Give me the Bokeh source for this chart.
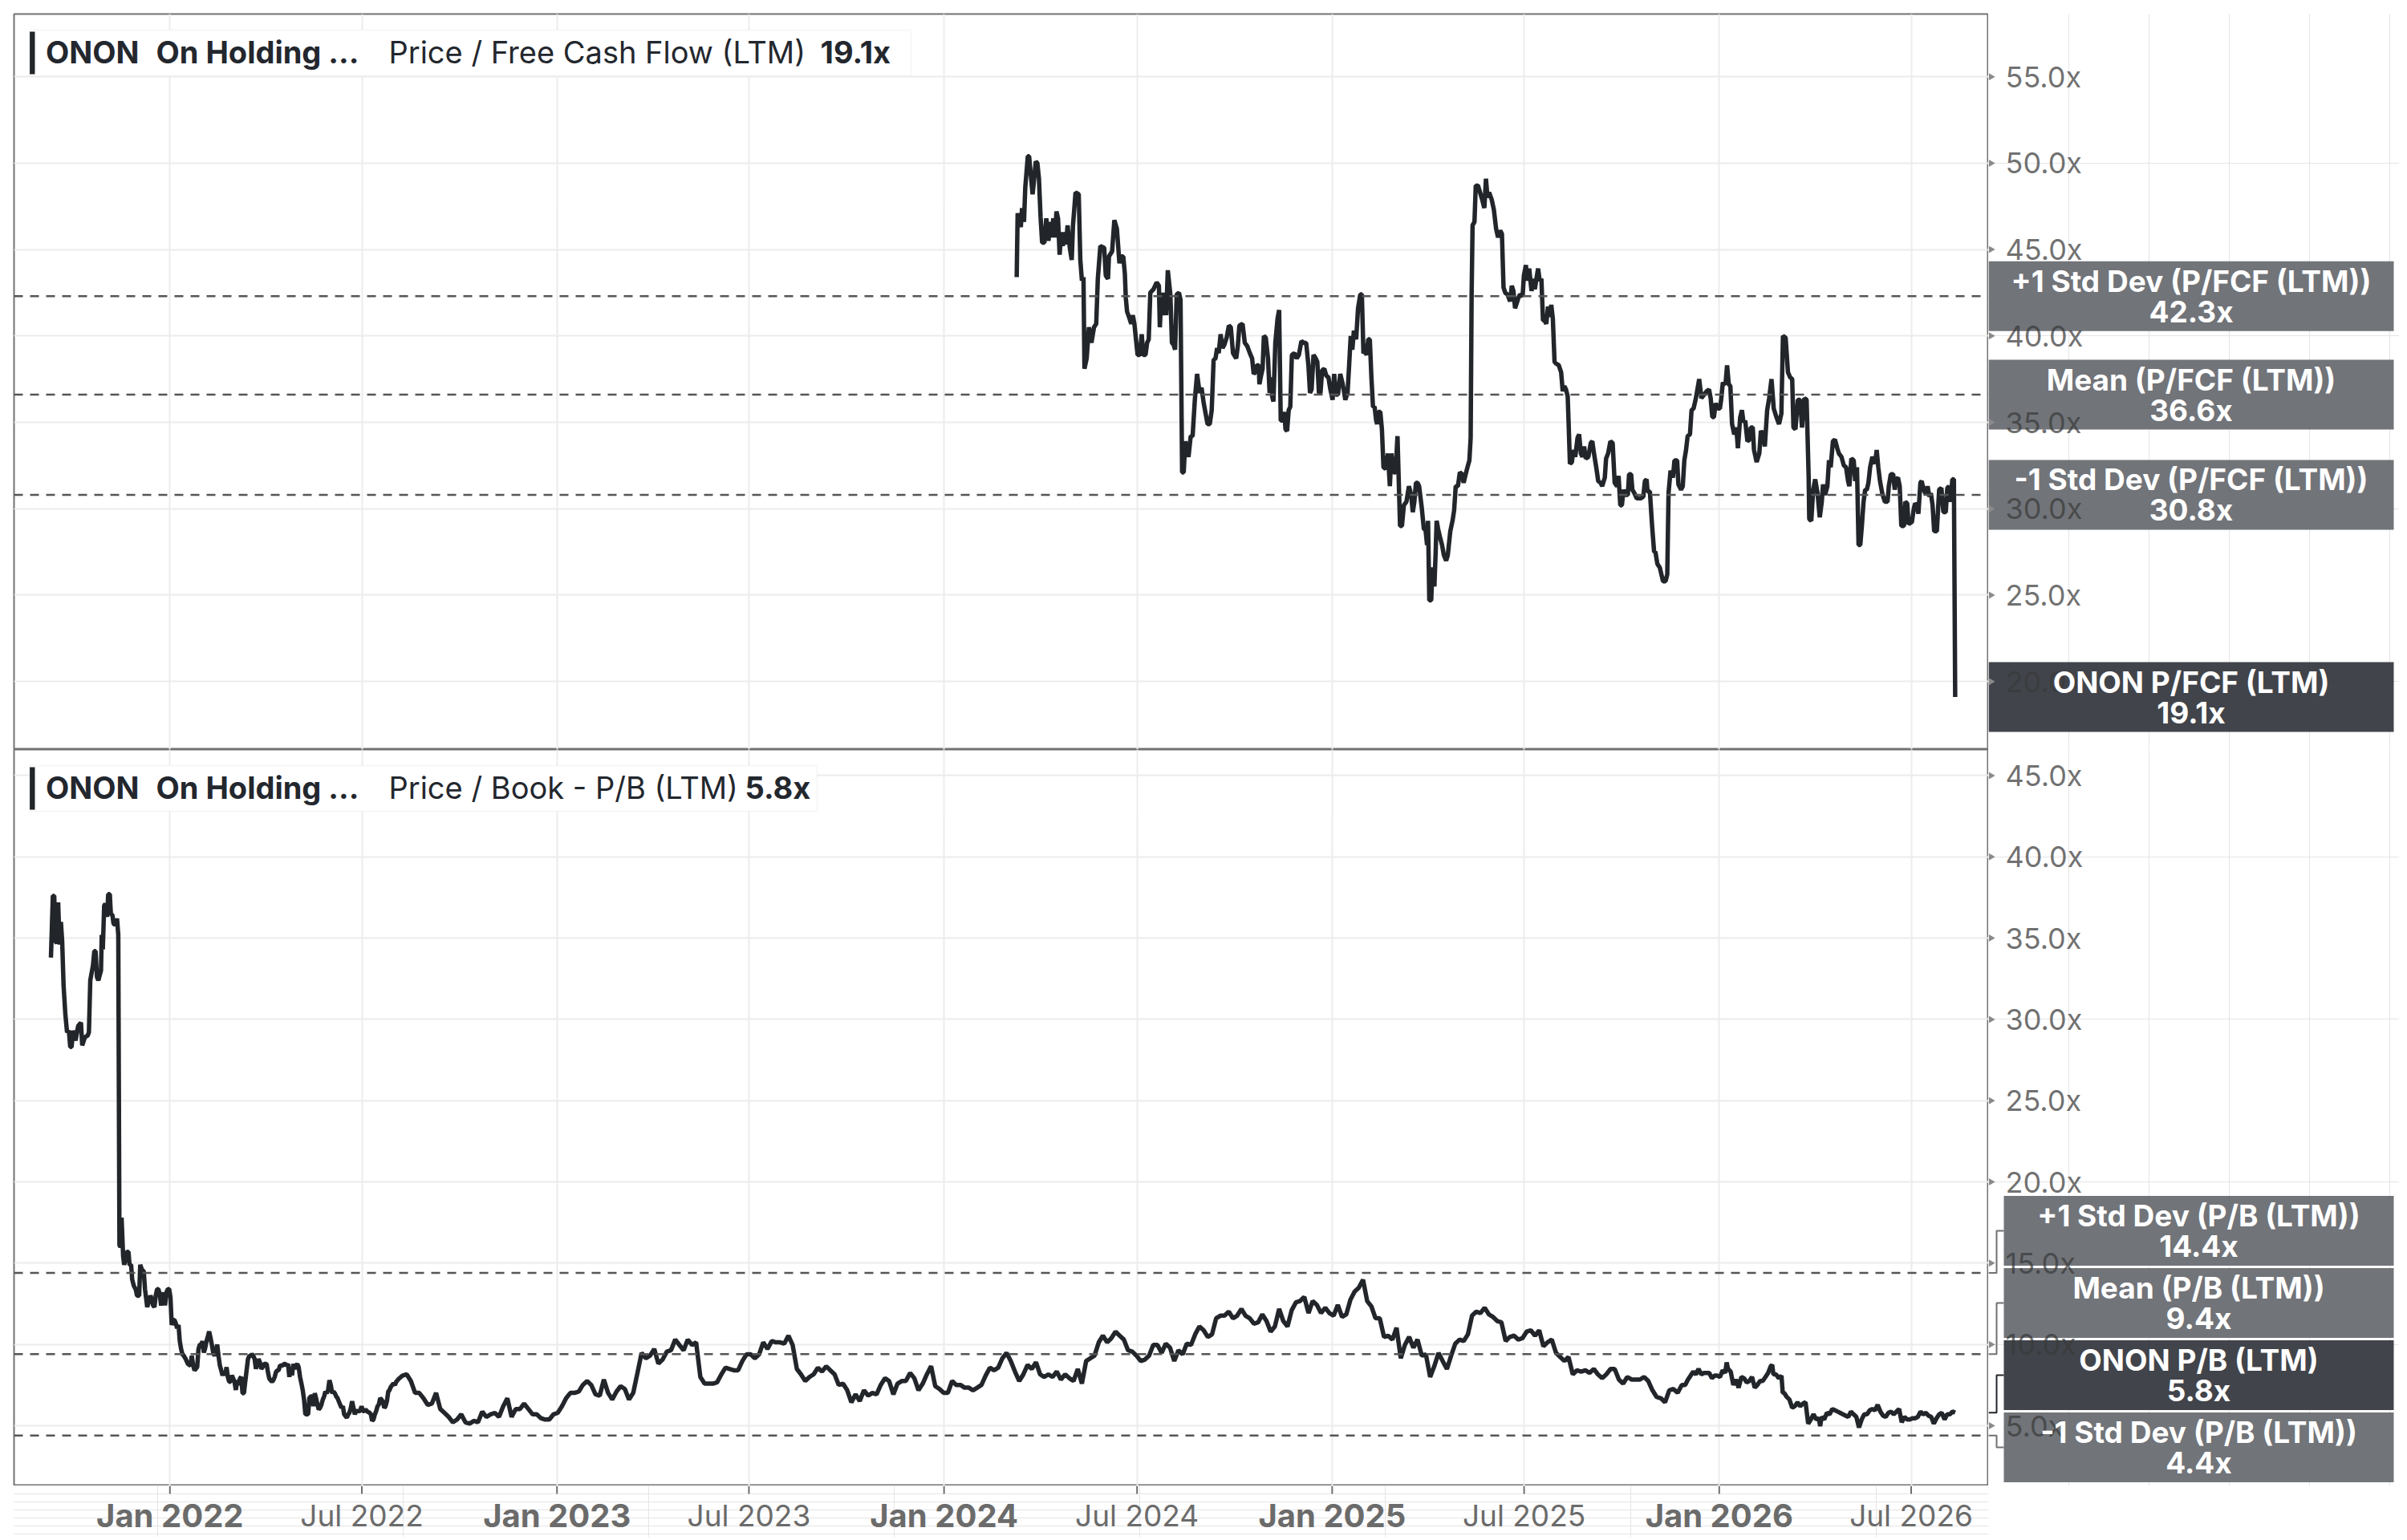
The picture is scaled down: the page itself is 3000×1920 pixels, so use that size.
import numpy as np
import pandas as pd
from bokeh.plotting import figure
from bokeh.layouts import column, row
from bokeh.core.properties import value
from bokeh.models import Range1d, FixedTicker, Span, BoxAnnotation, Label, Grid
from bokeh.embed import file_html
from bokeh.resources import INLINE

# ---------------- data (days since 2022-01-01, multiple) ----------------
BASE = pd.Timestamp("2022-01-01")

fcf_part1 = [(798.5,43.4),(799.4,47.1),(802.4,46.3),(803.6,47.4),(805.4,46.6),(806.6,48.6),(809.0,50.4),(810.2,50.4),(813.5,48.2),(815.0,49.1),(816.5,50.1),(818.0,50.0),(819.5,49.1),(821.0,46.9),(822.5,45.4),(824.6,45.4),(826.4,46.8),(828.5,45.5),(830.0,46.6),(831.5,45.7),(833.0,46.8),(834.5,45.7),(836.0,47.2),(837.5,46.8),(839.0,44.7),(840.5,46.0),(842.0,45.2),(843.5,46.0),(845.0,45.3),(846.5,46.4),(848.6,45.1),(850.4,44.4),(851.6,46.4),(854.0,48.3),(857.0,48.2),(858.5,44.4),(860.0,43.2),(861.5,43.4),(862.4,38.1),(864.5,38.7),(866.6,40.5),(869.0,39.6),(871.4,40.5),(873.5,40.7),(875.0,43.3),(877.4,45.2),(881.0,45.1),(882.5,43.5),(884.6,43.3),(885.5,44.6),(888.5,44.9),(890.6,46.7),(893.0,46.2),(895.4,44.2),(896.6,44.6),(899.0,44.6),(900.5,43.6),(901.4,42.2),(902.6,41.4),(904.4,41.1),(906.5,40.7),(908.0,41.2),(909.5,40.7),(911.0,39.8),(912.5,38.9),(914.6,38.9),(916.4,40.1),(917.9,38.9),(920.0,38.9),(921.5,39.6),(923.0,39.8),(924.5,42.5),(927.5,42.7),(930.5,43.1),(932.6,42.9),(933.5,40.5),(935.0,42.5),(936.5,41.2),(938.0,42.5),(939.5,41.2),(941.0,43.8),(943.4,42.4),(944.9,39.6),(946.4,39.5),(947.9,39.2),(949.4,42.4),(951.5,42.5),(953.0,42.1),(954.5,32.1),(956.0,32.1),(957.5,33.9),(959.0,33.4),(960.5,33.0),(962.6,34.2),(964.4,34.2),(966.5,36.3),(968.6,37.8),(971.0,36.7),(972.8,37.0),(974.9,36.1),(977.0,35.4),(978.5,34.9),(980.6,34.9),(982.4,35.7),(984.2,38.6),(986.0,38.7),(987.5,39.3),(989.0,39.0),(990.8,40.1),(992.6,39.3),(994.4,39.5),(996.5,39.9),(998.6,40.6),(1000.4,40.5),(1002.5,39.0),(1005.5,38.7),(1007.0,39.4),(1008.5,40.6),(1011.5,40.7),(1013.6,39.6),(1016.0,39.4),(1018.4,39.0),(1020.5,38.7),(1022.0,37.8),(1023.5,37.9),(1025.0,38.3),(1026.8,38.3),(1027.4,37.2),(1028.6,37.6),(1030.4,38.1),(1031.6,40.0),(1033.4,39.9),(1035.5,38.7),(1037.0,36.7),(1038.5,37.6),(1039.4,36.5),(1040.6,36.2),(1042.4,39.6),(1044.5,41.0),(1046.0,41.5),(1047.5,35.1),(1049.0,35.1),(1050.8,35.6),(1052.0,34.6),(1053.5,34.5),(1055.0,35.7),(1056.5,35.9),(1058.0,38.9),(1060.4,39.0),(1062.5,38.7),(1064.6,38.9),(1067.0,39.7),(1069.4,39.6),(1071.5,39.6),(1073.6,38.3),(1075.1,36.7),(1076.6,36.9),(1078.4,38.9),(1080.5,38.7),(1082.0,38.5),(1083.5,36.7),(1085.0,36.7),(1086.5,38.0),(1088.6,38.1),(1090.4,37.7),(1092.5,37.6),(1094.0,37.0),(1096.4,36.3),(1097.9,37.8),(1099.4,36.6),(1101.5,36.6),(1103.6,37.8),(1106.0,37.2),(1108.4,36.3),(1110.5,36.7),(1112.0,38.3),(1113.5,40.0),(1115.0,39.2),(1116.5,40.3),(1118.6,39.8),(1120.4,41.6),(1122.5,42.4),(1124.0,42.4),(1125.5,39.0),(1127.0,39.1),(1128.5,38.9),(1130.0,39.8),(1131.5,39.8),(1133.0,37.6),(1134.5,35.9),(1136.0,35.9),(1137.5,35.1),(1138.4,34.9),(1139.6,35.6),(1141.4,35.6),(1142.9,34.6),(1144.4,32.4),(1146.5,32.3),(1148.6,33.2),(1150.4,31.3),(1151.9,33.2),(1154.0,32.1),(1155.8,32.1),(1157.6,34.2),(1160.0,29.0),(1161.8,29.0),(1163.6,30.2),(1166.0,30.4),(1168.4,31.3),(1170.5,30.8),(1172.0,29.8),(1173.5,30.4),(1175.0,31.5),(1176.5,31.5),(1178.0,31.3),(1180.4,30.1),(1182.5,28.8),(1184.0,28.8),(1185.5,27.9),(1186.4,29.3),(1187.6,24.7),(1189.4,24.7),(1190.6,26.6),(1192.4,25.5),(1193.6,27.5),(1194.5,29.3),(1196.0,28.8),(1197.5,28.4),(1199.6,27.9),(1201.4,27.3),(1203.5,27.0),(1205.0,27.3),(1207.4,28.7),(1209.5,29.3),(1211.0,29.9),(1212.5,31.3),(1214.6,31.3),(1216.4,32.1),(1218.5,32.0),(1220.0,31.5),(1221.5,31.9),(1223.6,32.4),(1225.4,32.8),(1226.6,34.1),(1227.5,42.4),(1228.4,46.4),(1230.2,46.6),(1231.4,48.7),(1233.5,48.7),(1235.0,48.4),(1237.4,47.9),(1239.5,47.4),(1241.0,49.1),(1242.5,48.0),(1244.0,48.3),(1246.4,47.9),(1248.5,47.3),(1250.6,46.2),(1252.4,45.7)]

fcf_part2 = [(1254.5,46.1),(1256.1,45.9),(1257.6,42.8),(1259.2,42.5),(1261.3,42.4),(1263.8,42.0),(1265.4,42.9),(1266.9,42.6),(1268.5,41.6),(1271.6,42.2),(1273.1,42.4),(1275.6,42.3),(1276.8,43.5),(1278.7,44.1),(1279.9,43.2),(1281.8,43.9),(1284.0,42.6),(1285.5,43.3),(1287.1,42.7),(1288.6,43.3),(1290.2,43.9),(1291.7,43.2),(1293.3,43.3),(1294.8,40.9),(1296.4,40.9),(1297.9,40.7),(1299.5,41.7),(1301.0,41.1),(1302.6,41.8),(1304.1,41.0),(1305.7,38.5),(1307.2,38.4),(1309.7,38.3),(1311.9,37.9),(1313.4,36.8),(1315.0,37.1),(1316.5,36.9),(1318.1,36.5),(1319.0,34.9),(1320.2,32.6),(1322.1,32.7),(1323.3,33.4),(1325.2,33.0),(1327.4,34.1),(1328.9,34.3),(1330.5,33.2),(1332.0,33.0),(1333.6,33.6),(1335.1,32.9),(1337.6,33.0),(1339.8,33.8),(1341.3,33.9),(1342.9,33.2),(1345.0,32.4),(1346.9,31.6),(1349.1,31.5),(1350.6,31.3),(1353.1,31.8),(1354.3,32.9),(1356.2,33.2),(1358.4,33.9),(1360.5,33.8),(1362.4,31.5),(1364.6,31.3),(1366.1,31.9),(1367.7,30.2),(1369.2,30.2),(1370.8,31.1),(1372.3,30.8),(1374.8,30.8),(1376.0,32.0),(1377.9,32.0),(1379.1,31.1),(1381.0,30.9),(1383.2,30.6),(1384.7,30.6),(1387.2,30.6),(1389.4,30.7),(1390.9,31.6),(1392.5,31.7),(1393.4,31.0),(1395.6,31.0),(1397.7,29.0),(1399.6,27.5),(1400.8,27.5),(1402.7,26.8),(1404.9,26.6),(1408.0,25.8),(1410.4,25.8),(1412.0,26.2),(1413.2,30.9),(1415.1,32.2),(1417.3,31.8),(1418.8,32.8),(1421.3,32.8),(1422.5,31.4),(1425.0,31.1),(1426.6,31.3),(1428.1,32.8),(1429.7,33.4),(1431.2,34.2),(1433.4,34.3),(1434.9,35.7),(1436.8,35.8),(1439.0,36.4),(1442.1,37.5),(1444.2,36.4),(1446.7,36.6),(1449.2,36.8),(1451.4,36.9),(1452.9,36.4),(1454.5,35.3),(1456.0,35.3),(1457.6,36.1),(1459.7,35.8),(1461.6,35.8),(1462.8,36.3),(1464.4,37.3),(1466.9,37.2),(1468.4,38.3),(1470.0,37.2),(1471.5,37.1),(1473.1,34.9),(1475.2,34.3),(1477.1,34.7),(1478.6,33.5),(1480.8,35.3),(1482.4,35.7),(1483.9,35.0),(1485.5,35.1),(1487.6,33.9),(1489.5,34.0),(1490.7,34.7),(1492.6,34.7),(1493.8,33.4),(1496.3,32.7),(1498.8,33.2),(1500.3,34.5),(1502.5,34.3),(1504.0,33.6),(1506.2,35.7),(1508.1,36.4),(1510.3,37.5),(1512.4,35.8),(1514.9,35.3),(1517.4,34.9),(1519.6,35.5),(1521.1,40.0),(1523.6,39.9),(1525.8,37.9),(1527.9,37.6),(1529.8,37.5),(1531.0,34.7),(1532.9,34.6),(1535.1,36.3),(1537.2,36.3),(1539.1,34.7),(1541.3,36.4),(1543.4,36.3),(1545.3,31.9),(1545.9,29.4),(1547.8,29.3),(1549.6,31.1),(1551.5,31.7),(1553.7,30.9),(1555.8,29.5),(1557.7,30.4),(1558.9,31.4),(1560.8,30.8),(1563.0,31.3),(1564.5,32.8),(1566.1,32.4),(1568.2,33.9),(1570.1,34.0),(1572.3,33.5),(1573.8,33.2),(1576.3,33.0),(1578.5,32.5),(1580.6,32.4),(1582.5,31.6),(1583.7,31.3),(1585.6,32.9),(1587.8,32.8),(1589.3,31.6),(1590.9,32.4),(1592.4,27.9),(1594.0,27.9),(1595.5,29.0),(1597.1,30.4),(1598.6,31.1),(1600.2,31.1),(1601.7,31.5),(1603.3,32.4),(1605.4,33.0),(1607.9,32.6),(1609.5,33.4),(1611.0,32.4),(1612.6,31.6),(1614.7,30.9),(1617.2,30.4),(1619.7,30.4),(1620.9,31.3),(1622.8,32.0),(1625.0,32.0),(1626.5,31.1),(1628.1,31.7),(1629.6,31.8),(1631.2,31.3),(1632.7,29.0),(1635.2,29.0),(1636.4,30.4),(1638.3,30.3),(1639.5,29.1),(1641.4,29.2),(1642.6,29.2),(1644.5,30.0),(1645.7,30.3),(1647.6,30.2),(1648.8,29.7),(1650.7,31.5),(1651.9,31.6),(1653.8,31.1),(1656.0,30.8),(1657.5,31.3),(1659.1,30.7),(1660.6,30.9),(1662.2,30.2),(1663.7,28.7),(1666.2,28.7),(1668.4,31.1),(1670.5,31.2),(1672.4,29.8),(1674.6,29.8),(1676.1,31.2),(1677.7,31.3),(1679.2,30.4),(1680.8,31.7),(1682.3,31.7),(1683.5,19.1)]

pb_part1 = [(-112.2,33.8),(-110.4,37.6),(-109.1,37.6),(-107.9,34.8),(-106.6,34.7),(-105.4,37.2),(-104.1,34.6),(-102.8,36.0),(-101.6,34.8),(-100.3,32.1),(-98.6,30.3),(-97.0,29.2),(-95.3,29.3),(-94.0,28.3),(-92.7,28.3),(-91.5,29.3),(-89.0,28.7),(-86.5,29.6),(-83.9,29.8),(-82.7,28.4),(-80.2,28.9),(-77.6,29.0),(-76.4,29.2),(-75.1,32.4),(-72.6,33.3),(-71.3,34.2),(-70.1,34.2),(-68.8,32.6),(-67.5,32.4),(-66.3,32.7),(-65.0,33.0),(-64.3,35.2),(-63.3,34.3),(-62.0,37.0),(-60.8,37.1),(-59.2,36.3),(-58.2,37.7),(-56.7,37.7),(-55.7,36.5),(-54.2,36.4),(-53.2,35.9),(-51.7,35.8),(-49.9,36.2),(-48.7,35.2),(-47.6,16.1),(-46.6,16.0),(-45.6,17.8),(-44.1,15.4),(-43.1,14.9),(-41.6,15.4),(-40.6,15.7),(-39.1,15.7),(-38.1,14.9),(-36.6,14.9),(-35.6,14.0),(-34.0,13.6),(-32.3,13.4),(-31.0,13.0),(-29.0,13.0),(-28.0,14.9),(-26.4,14.6),(-24.7,14.5),(-23.5,13.4),(-21.4,12.3),(-19.7,12.7),(-18.4,13.0),(-17.1,12.8),(-15.9,12.4),(-14.6,12.3),(-13.4,13.0),(-12.1,13.4),(-10.9,13.4),(-9.6,13.1),(-8.3,12.4),(-7.1,12.8),(-5.8,13.2),(-4.6,12.4),(-3.3,13.2),(-2.0,13.4),(-0.7,13.4),(0.5,12.9),(1.7,11.2),(3.0,11.5),(4.3,11.5),(5.5,11.3),(6.8,11.0),(8.1,11.2),(9.3,10.2),(10.6,9.7),(11.8,9.4),(13.1,9.3),(14.9,9.1),(16.9,8.8),(19.4,8.7),(20.6,9.3),(21.9,8.7),(23.2,8.4),(24.4,8.5),(25.7,8.6),(26.9,9.7),(28.2,10.0),(29.5,10.0),(30.7,10.2),(32.0,9.5),(33.3,9.8),(34.5,10.2),(35.8,10.5),(37.0,10.8),(38.3,10.4),(39.5,10.0),(40.8,9.5),(42.1,9.3),(43.3,9.6),(44.6,10.0),(45.8,9.3),(47.1,8.7),(48.4,8.4),(49.6,8.1),(50.9,8.3),(52.1,8.1),(53.4,8.6),(54.6,8.0),(55.9,7.7),(57.1,7.7),(58.4,8.1),(59.7,7.9),(60.9,7.7),(62.2,7.2),(63.5,7.8),(64.7,7.5),(66.0,7.9),(67.2,8.0),(68.5,7.0),(69.8,7.0),(71.0,7.7),(72.3,8.4),(73.6,9.1),(74.8,9.3),(76.1,9.3),(77.3,9.4),(78.6,9.3),(79.9,9.1),(81.1,8.5),(82.4,8.8),(83.6,9.1),(84.9,8.9),(86.2,8.5),(87.4,8.6),(88.7,8.8),(91.2,8.8),(92.4,8.3),(93.7,7.9),(96.2,7.7),(97.5,7.8),(98.8,8.0),(100.0,8.3),(101.3,8.4),(102.5,8.4),(103.8,8.7),(106.3,8.7),(107.6,8.8),(108.8,8.8),(110.1,8.7),(111.4,8.8),(112.6,8.0),(113.9,8.6),(115.1,8.1),(116.4,8.8),(117.6,8.5),(118.9,8.7),(120.1,8.8),(121.4,8.6),(122.7,8.0),(124.0,7.6),(125.2,7.2),(126.5,6.6),(127.7,5.7),(130.3,5.7),(131.5,6.7),(132.8,6.8),(134.0,6.8),(135.3,6.2),(136.6,7.0),(137.8,6.7),(139.1,6.3),(140.3,6.0),(141.6,6.1),(142.9,6.3),(144.1,6.6),(145.4,6.8),(146.6,7.1),(147.9,7.0),(149.2,7.2),(150.4,7.8),(151.7,7.5),(153.0,7.0),(154.2,7.1),(155.5,7.0),(156.8,6.8),(158.0,6.7),(160.5,6.3),(161.8,6.1),(163.1,6.2),(164.3,5.7),(166.8,5.5),(168.1,5.7),(169.3,5.8),(170.6,6.1),(171.8,6.5),(173.1,6.1),(174.4,5.7),(175.6,5.9),(176.9,5.9),(179.4,5.9),(180.7,6.2),(181.9,5.9),(183.2,5.9),(184.5,6.0),(185.7,5.9),(188.2,5.8),(189.5,5.7),(190.7,5.3),(192.0,5.4),(193.3,5.7),(194.5,5.9),(195.8,6.2),(197.0,6.3),(198.3,6.7),(199.6,6.6),(200.8,6.5),(202.1,6.1),(203.3,6.2),(204.6,6.5),(205.9,7.1),(207.1,7.2),(208.4,7.4),(209.6,7.5),(210.9,7.6),(212.2,7.5),(213.4,7.7),(214.7,7.8),(216.0,7.9)]

pb_part2 = [(219.3,8.08),(223.3,8.16),(227.2,7.75),(231.2,7.02),(235.1,7.02),(239.1,6.69),(243.1,6.28),(247.0,6.36),(251.0,7.02),(254.9,6.03),(258.9,5.79),(262.8,5.54),(266.8,5.21),(270.8,5.38),(274.7,5.70),(278.7,5.21),(282.6,5.13),(286.6,5.30),(290.5,5.21),(294.5,5.87),(298.4,5.54),(302.4,5.70),(306.4,5.79),(310.3,5.54),(314.3,6.20),(318.2,6.69),(322.2,5.54),(326.1,6.03),(330.1,6.03),(334.0,6.36),(338.0,6.03),(342.0,5.70),(345.9,5.70),(349.9,5.46),(353.8,5.38),(357.8,5.38),(361.7,5.70),(365.7,5.79),(369.7,6.20),(373.6,6.69),(377.6,7.02),(381.5,7.02),(385.5,7.10),(389.4,7.51),(393.4,7.75),(397.3,7.51),(401.3,6.93),(405.3,6.85),(409.2,7.84),(413.2,7.02),(417.1,6.61),(421.1,7.10),(425.0,7.43),(429.0,7.26),(432.9,6.61),(436.9,7.02),(440.9,8.25),(444.8,9.48),(448.8,9.15),(452.7,9.31),(456.7,9.72),(460.6,8.82),(464.6,9.07),(468.6,9.56),(472.5,9.64),(476.5,10.30),(480.4,9.97),(484.4,9.64),(488.3,10.30),(492.3,9.97),(496.2,10.13),(500.2,8.00),(504.2,7.59),(508.1,7.59),(512.1,7.59),(516.0,7.67),(520.0,8.16),(523.9,8.57),(527.9,8.49),(531.8,8.41),(535.8,8.41),(539.8,8.98),(543.7,9.39),(547.7,9.39),(551.6,9.15),(555.6,9.39),(559.5,10.13),(563.5,9.72),(567.5,10.21),(571.4,10.13),(575.4,10.13),(579.3,10.05),(583.3,10.54),(587.2,9.97),(591.2,8.49),(595.1,8.16),(599.1,7.75),(603.1,8.00),(607.0,8.16),(611.0,8.57),(614.9,8.33),(618.9,8.66),(622.8,8.41),(626.8,8.16),(630.7,7.51),(634.7,7.59),(638.7,7.18),(642.6,6.44),(646.6,6.93),(650.5,6.52),(654.5,7.18),(658.4,6.85),(662.4,7.02),(666.4,6.93),(670.3,7.51),(674.3,7.92),(678.2,7.75),(682.2,6.93),(686.1,7.59),(690.1,7.75),(694.0,7.75),(698.0,8.25),(702.0,7.92),(705.9,7.18),(709.9,7.59),(713.8,8.16),(717.8,8.66),(721.7,7.43),(725.7,7.26),(729.6,7.02),(733.6,7.02),(737.6,7.75),(741.5,7.51),(745.5,7.51),(749.4,7.34),(753.4,7.34),(757.3,7.18),(761.3,7.34),(765.3,7.51),(769.2,8.08),(773.2,8.57),(777.1,8.41),(781.1,8.57),(785.0,9.15),(789.0,9.48),(792.9,8.98),(796.9,8.33),(800.9,7.75),(804.8,8.16),(808.8,8.74),(812.7,8.49),(816.7,8.90),(820.6,8.16)]

pb_part3 = [(824.4,8.00),(828.4,8.16),(832.3,8.00),(836.3,8.33),(840.2,7.84),(844.2,8.16),(848.2,7.92),(852.1,7.75),(856.1,8.49),(860.0,7.59),(864.0,8.98),(867.9,9.15),(871.9,9.31),(875.9,10.13),(879.8,10.54),(883.8,10.13),(887.7,10.38),(891.7,10.79),(895.6,10.54),(899.6,10.30),(903.5,9.64),(907.5,9.56),(911.5,9.31),(915.4,8.98),(919.4,9.07),(923.3,9.31),(927.3,9.97),(931.2,9.97),(935.2,9.48),(939.1,10.05),(943.1,9.80),(947.1,8.98),(951.0,9.64),(955.0,9.39),(958.9,10.05),(962.9,9.97),(966.8,10.62),(970.8,11.11),(974.8,10.87),(978.7,10.46),(982.7,10.62),(986.6,11.61),(990.6,11.77),(994.5,11.77),(998.5,12.02),(1002.4,11.61),(1006.4,11.77),(1010.4,12.18),(1014.3,11.77),(1018.3,11.61),(1022.2,11.28),(1026.2,11.36),(1030.1,11.85),(1034.1,11.44),(1038.0,10.79),(1042.0,11.11),(1046.0,12.18),(1049.9,11.44),(1053.9,11.11),(1057.8,12.10),(1061.8,12.59),(1065.7,12.67),(1069.7,12.92),(1073.7,11.93),(1077.6,12.67),(1081.6,12.43),(1085.5,11.93),(1089.5,12.26),(1093.4,11.93),(1097.4,11.77),(1101.3,12.43),(1105.3,11.69),(1109.3,11.85),(1113.2,12.75),(1117.2,13.25),(1121.1,13.49),(1125.1,13.98),(1129.0,12.67),(1133.0,12.34),(1136.9,11.61),(1140.9,11.61),(1144.9,10.46),(1148.8,10.54),(1152.8,10.30),(1156.7,11.03),(1160.7,9.15),(1164.6,9.97),(1168.6,10.46),(1172.6,9.80),(1176.5,10.30),(1180.5,9.31),(1184.4,9.39),(1188.4,8.00),(1192.3,8.66),(1196.3,9.48),(1200.2,8.98),(1204.2,8.49),(1208.2,9.31),(1212.1,10.05),(1216.1,10.30),(1220.0,10.21),(1224.0,10.62),(1227.9,11.77),(1231.9,12.02),(1235.8,11.93),(1239.8,12.26),(1243.8,11.85),(1247.7,11.69),(1251.7,11.44),(1255.6,11.36),(1259.6,10.21),(1263.5,10.46),(1267.5,10.54),(1271.5,10.30),(1275.4,10.38),(1279.4,10.79),(1283.3,10.87),(1287.3,10.54),(1291.2,10.87),(1295.2,9.89),(1299.1,10.13),(1303.1,10.30),(1307.1,9.48),(1311.0,9.23),(1315.0,8.98),(1318.9,9.23),(1322.9,8.16),(1326.8,8.41),(1330.8,8.33),(1334.7,8.41),(1338.7,8.25),(1342.7,8.49),(1346.6,8.16),(1350.6,7.92),(1354.5,8.16),(1358.5,8.49),(1362.4,8.49),(1366.4,7.84),(1370.4,7.59),(1374.3,8.00),(1378.3,7.84),(1382.2,7.84),(1386.2,7.84),(1390.1,8.00),(1394.1,7.75),(1398.0,7.18),(1402.0,6.77),(1406.0,6.69),(1409.9,6.44),(1413.9,7.18),(1417.8,7.26),(1421.8,7.02),(1425.7,7.51)]

pb_part4 = [(1428.9,7.51),(1431.5,7.84),(1434.0,8.08),(1436.5,8.33),(1439.0,8.16),(1441.5,8.49),(1444.1,8.16),(1446.6,8.25),(1449.1,8.25),(1451.6,8.25),(1454.1,7.92),(1456.7,8.08),(1459.2,8.08),(1461.7,8.00),(1464.2,8.41),(1466.7,8.25),(1468.0,8.90),(1469.3,8.49),(1471.8,8.33),(1474.3,7.51),(1476.8,7.84),(1479.3,7.34),(1481.9,8.00),(1484.4,7.92),(1486.9,7.67),(1489.4,7.75),(1491.9,8.00),(1494.5,7.34),(1497.0,7.51),(1499.5,7.75),(1502.0,7.75),(1504.6,8.00),(1507.1,8.25),(1509.6,8.66),(1510.9,8.74),(1512.1,8.16),(1514.6,8.16),(1517.2,7.92),(1519.7,8.08),(1520.9,7.02),(1522.2,7.02),(1524.7,6.77),(1527.2,6.61),(1529.8,6.11),(1532.3,6.20),(1534.8,6.44),(1537.3,6.20),(1539.9,6.36),(1542.4,6.44),(1544.9,5.13),(1547.4,5.38),(1549.9,5.70),(1552.5,5.38),(1555.0,5.46),(1556.2,4.97),(1557.5,5.54),(1560.0,5.38),(1562.5,5.79),(1565.1,5.70),(1567.6,6.03),(1570.1,5.95),(1572.6,5.87),(1575.1,5.79),(1577.7,5.70),(1580.2,5.62),(1582.7,5.54),(1585.2,5.87),(1587.7,5.70),(1590.3,5.54),(1592.8,4.89),(1595.3,5.38),(1597.8,5.70),(1600.4,5.70),(1602.9,5.95),(1605.4,6.03),(1607.9,5.95),(1610.4,6.28),(1613.0,5.87),(1615.5,5.62),(1618.0,5.54),(1620.5,5.79),(1623.0,5.87),(1625.6,5.70),(1628.1,5.87),(1630.6,6.03),(1633.1,5.21),(1635.6,5.54),(1638.2,5.38),(1640.7,5.38),(1643.2,5.46),(1645.7,5.46),(1648.3,5.54),(1650.8,5.87),(1653.3,5.70),(1655.8,5.79),(1658.3,5.62),(1660.9,5.54),(1663.4,5.13),(1665.9,5.46),(1668.4,5.70),(1670.9,5.79),(1673.5,5.38),(1676.0,5.70),(1678.5,5.70),(1681.0,5.87),(1683.5,5.80)]

fcf_days = [d for d, _ in fcf_part1 + fcf_part2]
fcf_vals = [v for _, v in fcf_part1 + fcf_part2]
pb_days = [d for d, _ in pb_part1 + pb_part2 + pb_part3 + pb_part4]
pb_vals = [v for _, v in pb_part1 + pb_part2 + pb_part3 + pb_part4]

fcf_stat_vals = [42.3, 36.6, 30.8]
fcf_stat_names = ["+1 Std Dev (P/FCF (LTM))", "Mean (P/FCF (LTM))", "-1 Std Dev (P/FCF (LTM))"]
fcf_current = 19.1
fcf_current_name = "ONON P/FCF (LTM)"
fcf_metric = "Price / Free Cash Flow (LTM)"

pb_stat_vals = [14.4, 9.4, 4.4]
pb_stat_names = ["+1 Std Dev (P/B (LTM))", "Mean (P/B (LTM))", "-1 Std Dev (P/B (LTM))"]
pb_current = 5.8
pb_current_name = "ONON P/B (LTM)"
pb_metric = "Price / Book - P/B (LTM)"

ticker_symbol = "ONON"
company = "On Holding ..."

jan_ticks = ["2022-01-01", "2023-01-01", "2024-01-01", "2025-01-01", "2026-01-01"]
jan_labels = ["Jan 2022", "Jan 2023", "Jan 2024", "Jan 2025", "Jan 2026"]
jul_ticks = ["2022-07-01", "2023-07-01", "2024-07-01", "2025-07-01", "2026-07-01"]
jul_labels = ["Jul 2022", "Jul 2023", "Jul 2024", "Jul 2025", "Jul 2026"]
fcf_yticks = [20, 25, 30, 35, 40, 45, 50, 55]
pb_yticks = [5, 10, 15, 20, 25, 30, 35, 40, 45]

# ---------------- layout / style ----------------
FONT = "Inter"
FW = 2461            # main frame width
SW = 512             # side (value box) strip width
FH_TOP, FH_BOT = 917, 918
BORDER = 17
AX_H = 64
LINE_C = "#22262b"
GRID_C = "#ececec"
AXIS_C = "#6f6f6f"
XLAB_C = "#6b6b6b"
BOX_C = "#66696f"
DARK_C = "#33363c"
BOX_H = 87
BOX_R = 505


def ms(s):
    return pd.Timestamp(s).value / 1e6


X0, X1 = ms("2021-08-07"), ms("2026-09-12")
x_range = Range1d(X0, X1)
x_tick_ms = [ms(t) for t in jan_ticks + jul_ticks]


def sx(px):
    return X0 + (X1 - X0) * px / FW


def to_ms(days):
    return [(BASE + pd.Timedelta(days=d)).value / 1e6 for d in days]


def layout_labels(values, pitch, lo, hi):
    clusters = [[i] for i in range(len(values))]

    def bounds(c):
        ct = sum(values[i] for i in c) / len(c)
        top = ct + len(c) * pitch / 2
        return top, top - len(c) * pitch

    merged = True
    while merged:
        merged = False
        for j in range(len(clusters) - 1):
            _, b1 = bounds(clusters[j])
            t2, _ = bounds(clusters[j + 1])
            if b1 < t2:
                clusters[j] = clusters[j] + clusters[j + 1]
                del clusters[j + 1]
                merged = True
                break
    pos = [0.0] * len(values)
    for c in clusters:
        top, bot = bounds(c)
        if bot < lo:
            top += lo - bot
        if top > hi:
            top = hi
        for k, i in enumerate(c):
            pos[i] = top - (k + 0.5) * pitch
    return pos


def make_panel(days, vals, y0, y1, fh, yticks, stat_vals, stat_names, cur_val, cur_name,
               metric, top, box_left, box_gap):
    ppu = fh / (y1 - y0)
    y_range = Range1d(y0, y1)
    tb = dict(min_border_top=BORDER if top else 0, min_border_bottom=0)

    # ---------- main plot ----------
    p = figure(frame_width=FW, frame_height=fh, x_range=x_range, y_range=y_range,
               x_axis_type="datetime", x_axis_location=None, y_axis_location=None,
               output_backend="svg", toolbar_location=None,
               min_border_left=BORDER, min_border_right=0,
               background_fill_color="white", border_fill_color="white", **tb)
    p.add_layout(Grid(dimension=0, ticker=FixedTicker(ticks=x_tick_ms),
                      grid_line_color=GRID_C, grid_line_width=2))
    p.add_layout(Grid(dimension=1, ticker=FixedTicker(ticks=yticks),
                      grid_line_color=GRID_C, grid_line_width=2))
    p.outline_line_color = "#727272"
    p.outline_line_width = 2

    p.line(to_ms(days), vals, line_color=LINE_C, line_width=5.5)

    for v in stat_vals:
        p.add_layout(Span(location=v, dimension="width", line_color="#555555",
                          line_width=2.5, line_dash="11 9"))

    # header legend
    val_x = 1005 if top else 911
    box_r = 1118 if top else 1001
    p.add_layout(BoxAnnotation(left=sx(19.6), right=sx(box_r), top=y1 - 20 / ppu,
                               bottom=y1 - 77 / ppu, fill_color="white", fill_alpha=1,
                               line_color="#e4e4e4", line_width=2, level="annotation"))
    p.add_layout(BoxAnnotation(left=sx(19.6), right=sx(26), top=y1 - 22 / ppu,
                               bottom=y1 - 75 / ppu, fill_color=LINE_C, fill_alpha=1,
                               line_color=None, level="annotation"))
    yh = y1 - 47 / ppu
    for txt, xpx, style in [(ticker_symbol, 39.5, "bold"), (company, 177, "bold"),
                            (metric, 467, "normal"), (f"{cur_val:.1f}x", val_x, "bold")]:
        p.add_layout(Label(x=sx(xpx), y=yh, text=txt, text_font=FONT, text_font_size="38px",
                           text_font_style=style, text_color="#23272e",
                           text_align="left", text_baseline="middle", level="overlay"))

    # ---------- side strip: y tick labels + value boxes ----------
    s = figure(frame_width=SW, frame_height=fh, x_range=Range1d(0, SW), y_range=y_range,
               x_axis_location=None, y_axis_location=None, output_backend="svg",
               toolbar_location=None, min_border_left=0, min_border_right=0,
               background_fill_color="white", border_fill_color="white",
               outline_line_color=None, **tb)

    items = sorted([(v, n, BOX_C) for v, n in zip(stat_vals, stat_names)] +
                   [(cur_val, cur_name, DARK_C)], key=lambda t: -t[0])
    pitch = (BOX_H + box_gap) / ppu
    centers = layout_labels([it[0] for it in items], pitch, y0 + 3 / ppu, y1 - 3 / ppu)
    half = BOX_H / 2 / ppu

    if box_left > 0:
        s.multi_line(xs=[[0, 10, 10, box_left] for _ in items],
                     ys=[[it[0], it[0], c, c] for it, c in zip(items, centers)],
                     line_color=[LINE_C if it[2] == DARK_C else "#707070" for it in items],
                     line_width=2)
    s.quad(left=[box_left] * len(items), right=[BOX_R] * len(items),
           top=[c + half for c in centers], bottom=[c - half for c in centers],
           fill_color=[it[2] for it in items], fill_alpha=0.93, line_color=None)

    s.scatter(x=[3] * len(yticks), y=yticks, marker="triangle", angle=-np.pi / 2, size=9,
              fill_color="#8a8a8a", line_color=None)
    s.text(x=[21] * len(yticks), y=yticks, text=[f"{t:.1f}x" for t in yticks],
           text_font=value(FONT), text_font_size=value("36px"), text_color="#3a3a3a",
           text_alpha=0.72, text_align="left", text_baseline="middle")

    mid = (box_left + BOX_R) / 2
    s.text(x=[mid] * len(items), y=[c + 19 / ppu for c in centers],
           text=[it[1] for it in items], text_font=value(FONT),
           text_font_size=value("37px"), text_font_style="bold", text_color="white",
           text_align="center", text_baseline="middle")
    s.text(x=[mid] * len(items), y=[c - 19 / ppu for c in centers],
           text=[f"{it[0]:.1f}x" for it in items], text_font=value(FONT),
           text_font_size=value("37px"), text_font_style="bold", text_color="white",
           text_align="center", text_baseline="middle")
    return row(p, s)


def make_time_strip():
    # the shared time scale's tick marks and labels, below the lower panel
    t = figure(frame_width=FW, frame_height=AX_H, x_range=x_range, y_range=Range1d(AX_H, 0),
               x_axis_location=None, y_axis_location=None, output_backend="svg",
               toolbar_location=None, min_border_left=BORDER, min_border_right=SW,
               min_border_top=0, min_border_bottom=0, outline_line_color=None,
               background_fill_color="white", border_fill_color="white")
    t.segment(x0=x_tick_ms, y0=[0] * len(x_tick_ms), x1=x_tick_ms, y1=[10] * len(x_tick_ms),
              line_color=AXIS_C, line_width=2)
    t.text(x=[ms(d) for d in jan_ticks], y=[12] * len(jan_ticks), text=jan_labels,
           text_font=value(FONT), text_font_size=value("40px"), text_font_style="bold",
           text_color=XLAB_C, text_align="center", text_baseline="top")
    t.text(x=[ms(d) for d in jul_ticks], y=[14] * len(jul_ticks), text=jul_labels,
           text_font=value(FONT), text_font_size=value("37px"), text_font_style="normal",
           text_color=XLAB_C, text_align="center", text_baseline="top")
    return t


top_panel = make_panel(fcf_days, fcf_vals, 16.06, 58.63, FH_TOP, fcf_yticks, fcf_stat_vals,
                       fcf_stat_names, fcf_current, fcf_current_name, fcf_metric, True, 0, 0)
bot_panel = make_panel(pb_days, pb_vals, 1.3, 46.6, FH_BOT, pb_yticks, pb_stat_vals,
                       pb_stat_names, pb_current, pb_current_name, pb_metric, False, 19, 3)
time_strip = make_time_strip()

layout = column(top_panel, bot_panel, time_strip)
open("out.html", "w").write(file_html(layout, INLINE))
